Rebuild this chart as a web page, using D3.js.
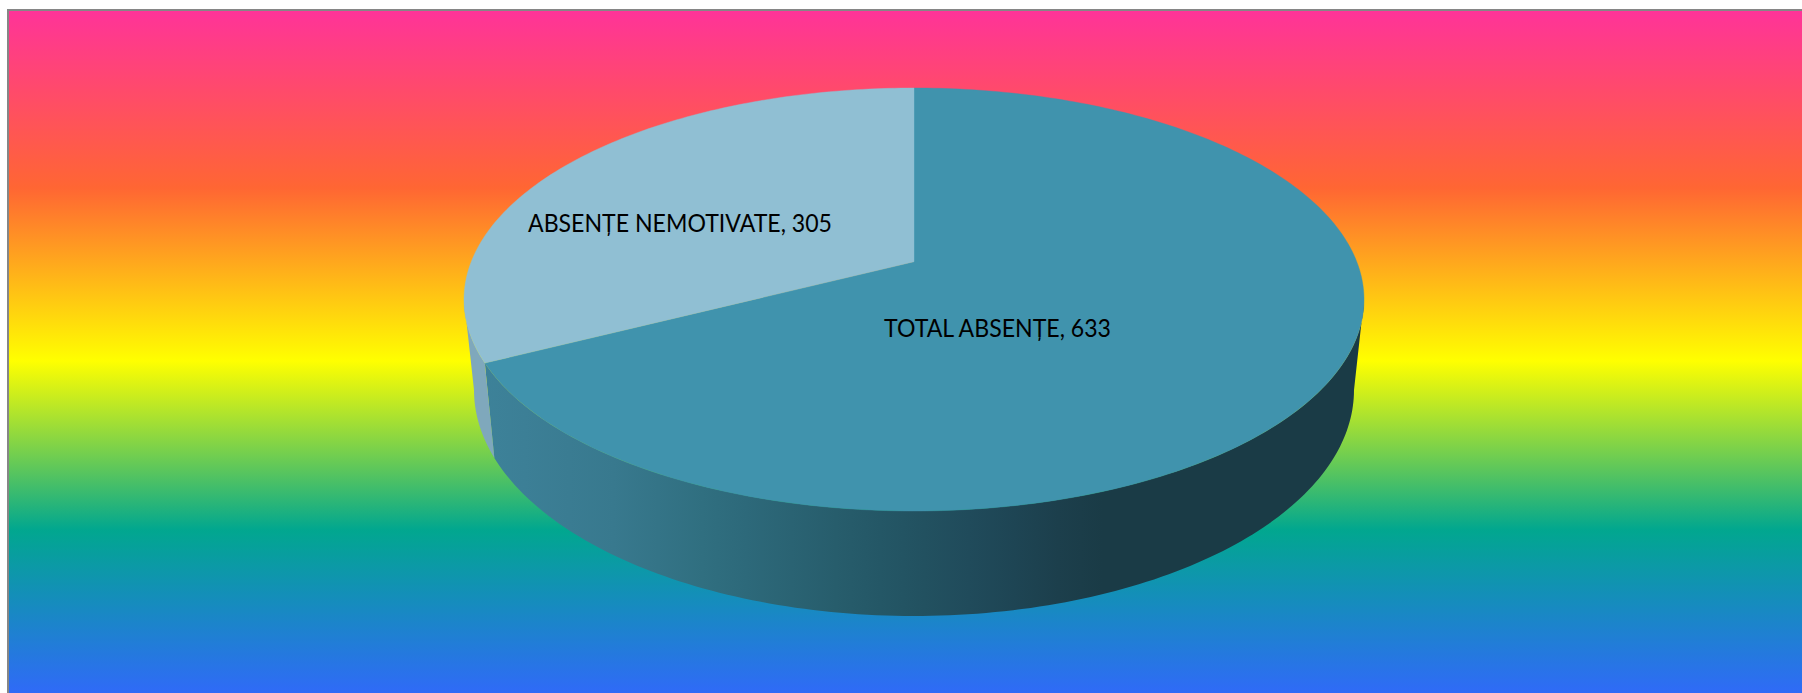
<!DOCTYPE html>
<html>
<head>
<meta charset="utf-8">
<script src="https://cdn.jsdelivr.net/npm/d3@7"></script>
<style>
  html, body { margin: 0; padding: 0; background: #fff; overflow: hidden; }
  svg { display: block; }
</style>
</head>
<body>
<div id="chart"></div>
<script>
const categories = ["TOTAL ABSENȚE", "ABSENȚE NEMOTIVATE"];
const values = [633, 305];
const topColors = ["#4093ad", "#90bfd3"];

const bgOffsets = [0, 0.256, 0.505, 0.748, 1];
const bgColors = ["#ff3399", "#ff6633", "#ffff00", "#01a78f", "#3366ff"];

const wallX = [480, 600, 710, 880, 1000, 1090, 1370];
const wallColors = ["#3d8299", "#397a90", "#2f6e7f", "#245766", "#1f4757", "#1a3b46", "#1a3b46"];
const lightWall = "#7fa8bc";

const width = 1802;
const height = 693;
const tilt = 0.1787; // perspective of the pie plane

const svg = d3.select("#chart").append("svg")
    .attr("width", width)
    .attr("height", height);

const defs = svg.append("defs");

// rainbow background
const bgY = d3.scaleLinear().domain([0, 1]).range([10, 705]);
defs.append("linearGradient")
    .attr("id", "bg")
    .attr("gradientUnits", "userSpaceOnUse")
    .attr("x1", 0).attr("x2", 0)
    .attr("y1", bgY(0)).attr("y2", bgY(1))
  .selectAll("stop")
  .data(bgOffsets)
  .join("stop")
    .attr("offset", d => d)
    .attr("stop-color", (d, i) => bgColors[i]);

svg.append("rect")
    .attr("x", 8)
    .attr("y", 10)
    .attr("width", width + 20)
    .attr("height", height + 20)
    .attr("fill", "url(#bg)")
    .attr("stroke", "#868686")
    .attr("stroke-width", 2);

// side shading goes left to right
const wallColor = d3.scaleLinear().domain(wallX).range(wallColors);
const wallGrad = defs.append("linearGradient")
    .attr("id", "wall")
    .attr("gradientUnits", "userSpaceOnUse")
    .attr("x1", wallX[0]).attr("x2", wallX[wallX.length - 1])
    .attr("y1", 0).attr("y2", 0);
wallGrad.selectAll("stop")
  .data(d3.range(0, 1.001, 0.05))
  .join("stop")
    .attr("offset", d => d)
    .attr("stop-color", d => wallColor(wallX[0] + d * (wallX[wallX.length - 1] - wallX[0])));

// top and bottom rim of the pie, as ellipses seen in perspective
const topRim = { cx: 914, cy: 299.5, rx: 450, ry: 211.5 };
const bottomRim = { cx: 914, cy: 390, rx: 440, ry: 226 };

function project(rim, a) {
  const A = rim.rx * Math.sqrt(1 - tilt * tilt);
  const B = rim.ry * (1 - tilt * tilt);
  const y0 = rim.cy - rim.ry * tilt;
  const v = Math.cos(a);
  const w = 1 + tilt * v;
  return [rim.cx + A * Math.sin(a) / w, y0 - B * v / w];
}

const pie = d3.pie().sort(null).startAngle(0).endAngle(2 * Math.PI);
const slices = pie(values);
const line = d3.line();
const step = Math.PI / 180;

function arcAngles(from, to) {
  const n = Math.ceil((to - from) / step);
  return d3.range(n + 1).map(i => from + (to - from) * i / n);
}

// only the front of the side wall shows: between the two widest points of the rim
const frontStart = Math.acos(-tilt);
const frontEnd = 2 * Math.PI - frontStart;

svg.append("g")
  .selectAll("path")
  .data(slices.filter(s => s.endAngle > frontStart && s.startAngle < frontEnd))
  .join("path")
    .attr("d", s => {
      const angles = arcAngles(Math.max(s.startAngle, frontStart), Math.min(s.endAngle, frontEnd));
      const pts = [...angles.map(a => project(topRim, a)), ...angles.reverse().map(a => project(bottomRim, a))];
      return line(pts) + "Z";
    })
    .attr("fill", s => s.index === 0 ? "url(#wall)" : lightWall);

// top face
svg.append("g")
  .selectAll("path")
  .data(slices)
  .join("path")
    .attr("d", s => {
      const apex = [topRim.cx, topRim.cy - topRim.ry * tilt];
      return line([apex, ...arcAngles(s.startAngle, s.endAngle).map(a => project(topRim, a))]) + "Z";
    })
    .attr("fill", (s, i) => topColors[i])
    .attr("stroke", (s, i) => topColors[i])
    .attr("stroke-width", 0.4);

// labels
const labelX = [884, 528];
const labelW = [227, 304];
const labelY = [337, 232];
svg.append("g")
    .attr("font-family", "Lato, 'Noto Sans', sans-serif")
    .attr("font-size", 25)
    .attr("fill", "#000")
  .selectAll("text")
  .data(categories)
  .join("text")
    .attr("x", (d, i) => labelX[i])
    .attr("y", (d, i) => labelY[i])
    .attr("textLength", (d, i) => labelW[i])
    .attr("lengthAdjust", "spacingAndGlyphs")
    .text((d, i) => `${d}, ${values[i]}`);
</script>
</body>
</html>
